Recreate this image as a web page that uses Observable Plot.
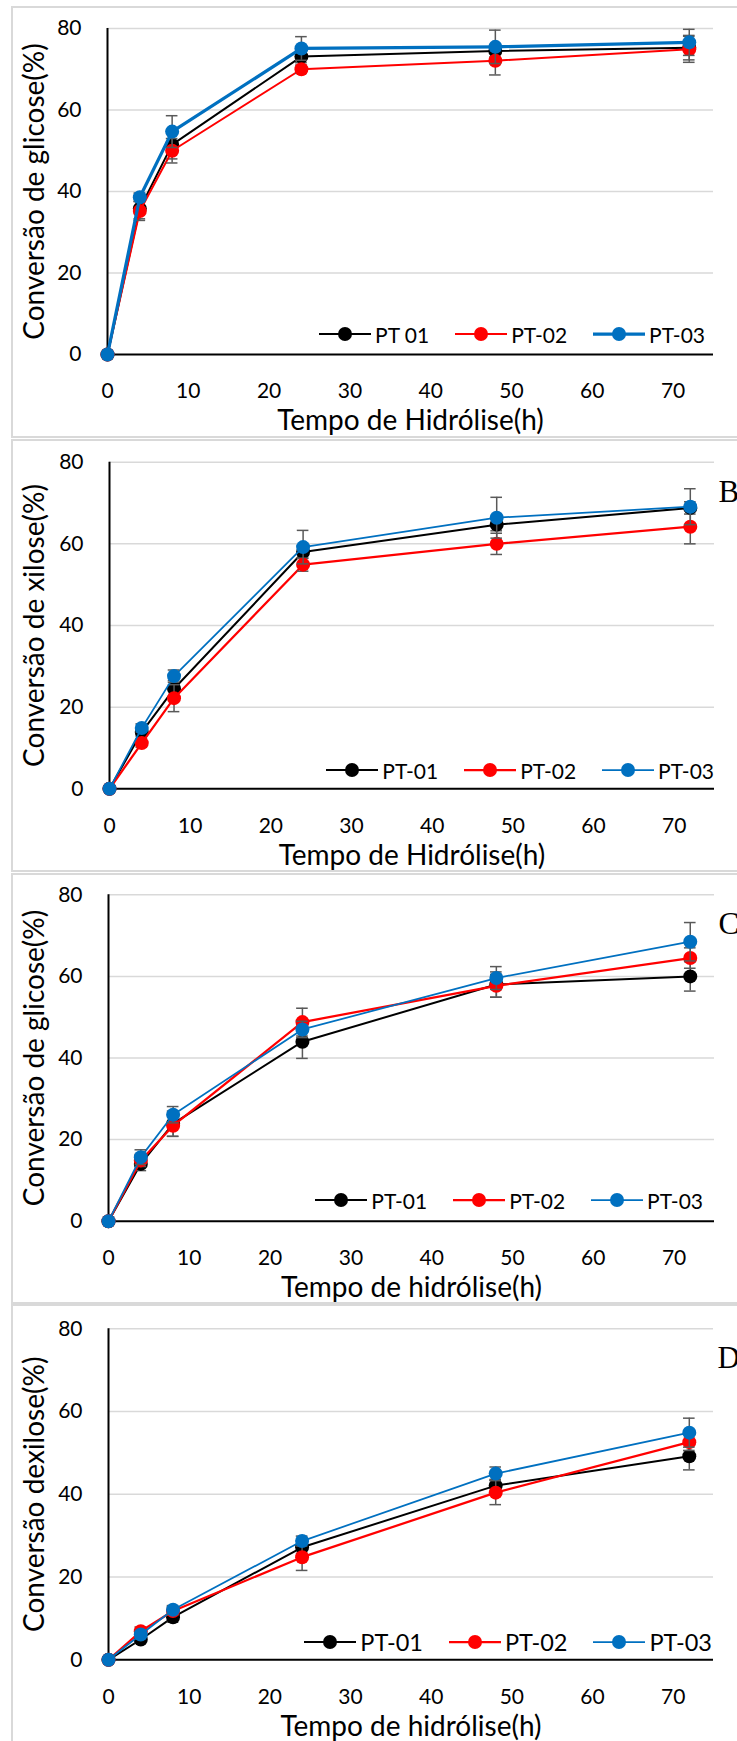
<!DOCTYPE html>
<html><head><meta charset="utf-8">
<script src="https://cdn.jsdelivr.net/npm/d3@7"></script>
<script src="https://cdn.jsdelivr.net/npm/@observablehq/plot@0.6"></script>
<style>
body{margin:0;background:#fff}
#fig{position:relative;width:737px;height:1741px;overflow:hidden;background:#fff;font-family:Lato,sans-serif}
.panel{position:absolute;left:0;width:737px}
.frame{position:absolute;left:11px;width:800px;border:2px solid #d9d9d9;box-sizing:border-box;pointer-events:none}
.legend{position:absolute;display:flex;align-items:center;height:24px;font-family:Lato,sans-serif;font-size:21px;color:#000;white-space:nowrap}
.item{display:flex;align-items:center;margin-left:26px}
.item:first-child{margin-left:0}
.item svg{margin-right:4px;display:block}
</style>
</head><body>
<div id="fig"></div>
<script>
// ---- data ----
const hours = [0, 4, 8, 24, 48, 72];
const xTicks = [0, 10, 20, 30, 40, 50, 60, 70];
const yTicks = [0, 20, 40, 60, 80];
const yGrid = [20, 40, 60, 80];
const seriesNames = ["PT-01", "PT-02", "PT-03"];
const legendNamesA = ["PT 01", "PT-02", "PT-03"];
const seriesColors = ["#000000", "#ff0000", "#0070c0"];

// Panel A - glucose conversion
const glucA_PT01 = [0, 35.8, 51.5, 73.1, 74.5, 75.3];
const glucA_PT02 = [0, 35.2, 50.0, 70.0, 72.1, 74.9];
const glucA_PT03 = [0, 38.6, 54.7, 75.1, 75.5, 76.6];
const glucA_PT01_err = [0, 2.5, 3.5, 1.5, 1.5, 3.0];
const glucA_PT02_err = [0, 2.3, 3.0, 1.0, 3.5, 3.2];
const glucA_PT03_err = [0, 1.0, 3.9, 2.9, 4.1, 3.2];

// Panel B - xylose conversion
const xylB_PT01 = [0, 13.9, 24.5, 58.0, 64.7, 68.8];
const xylB_PT02 = [0, 11.2, 22.2, 54.9, 60.0, 64.2];
const xylB_PT03 = [0, 14.9, 27.6, 59.2, 66.4, 69.1];
const xylB_PT01_err = [0, 1.0, 2.0, 1.5, 1.5, 1.5];
const xylB_PT02_err = [0, 1.0, 3.3, 1.6, 2.6, 4.2];
const xylB_PT03_err = [0, 1.0, 1.5, 4.1, 5.0, 4.4];

// Panel C - glucose conversion
const glucC_PT01 = [0, 14.05, 23.9, 44.0, 58.0, 60.0];
const glucC_PT02 = [0, 14.9, 23.4, 48.8, 57.7, 64.5];
const glucC_PT03 = [0, 15.7, 26.1, 47.0, 59.6, 68.5];
const glucC_PT01_err = [0, 1.65, 3.1, 4.1, 3.1, 3.6];
const glucC_PT02_err = [0, 1.5, 2.6, 3.4, 2.8, 2.5];
const glucC_PT03_err = [0, 1.8, 2.0, 2.0, 2.8, 4.7];

// Panel D - xylose conversion
const xylD_PT01 = [0, 4.9, 10.3, 27.2, 42.1, 49.2];
const xylD_PT02 = [0, 6.9, 11.8, 24.8, 40.4, 52.6];
const xylD_PT03 = [0, 6.1, 12.1, 28.7, 45.0, 54.9];
const xylD_PT01_err = [0, 0.8, 1.2, 1.5, 1.5, 3.3];
const xylD_PT02_err = [0, 1.0, 1.0, 3.2, 2.9, 2.0];
const xylD_PT03_err = [0, 0.8, 1.0, 1.2, 1.6, 3.5];

const panels = [
  {top: 0, height: 438, mt: 28, mb: 84, ml: 107, mr: 24,
   frameTop: 6, frameH: 432,
   yTitle: "Conversão de glicose(%)", xTitle: "Tempo de Hidrólise(h)", letter: null,
   values: [glucA_PT01, glucA_PT02, glucA_PT03], errors: [glucA_PT01_err, glucA_PT02_err, glucA_PT03_err],
   lw: [2, 2, 3.25], legendNames: legendNamesA, legendRight: 705, legendY: 334, legendFont: 21},
  {top: 438, height: 434, mt: 23.7, mb: 83.7, ml: 109, mr: 23,
   frameTop: 439, frameH: 433,
   yTitle: "Conversão de xilose(%)", xTitle: "Tempo de Hidrólise(h)", letter: "B",
   values: [xylB_PT01, xylB_PT02, xylB_PT03], errors: [xylB_PT01_err, xylB_PT02_err, xylB_PT03_err],
   lw: [2, 2.25, 1.75], legendNames: seriesNames, legendRight: 714, legendY: 770, legendFont: 21},
  {top: 871, height: 432, mt: 23.3, mb: 82.3, ml: 108, mr: 23,
   frameTop: 873, frameH: 431,
   yTitle: "Conversão de glicose(%)", xTitle: "Tempo de hidrólise(h)", letter: "C",
   values: [glucC_PT01, glucC_PT02, glucC_PT03], errors: [glucC_PT01_err, glucC_PT02_err, glucC_PT03_err],
   lw: [2, 2.25, 1.75], legendNames: seriesNames, legendRight: 703, legendY: 1200, legendFont: 21},
  {top: 1303, height: 438, mt: 25.3, mb: 81.7, ml: 108, mr: 24,
   frameTop: 1304, frameH: 500,
   yTitle: "Conversão dexilose(%)", xTitle: "Tempo de hidrólise(h)", letter: "D",
   values: [xylD_PT01, xylD_PT02, xylD_PT03], errors: [xylD_PT01_err, xylD_PT02_err, xylD_PT03_err],
   lw: [2, 2.25, 1.75], legendNames: seriesNames, legendRight: 712, legendY: 1642, legendFont: 23.5}
];

const fig = document.getElementById("fig");
const font = "Lato, sans-serif";
const titleSize = 28;

panels.forEach(cfg => {
  const marks = [
    Plot.ruleY(yGrid, {stroke: "#d9d9d9", strokeWidth: 1.5}),
    Plot.ruleY([0], {stroke: "#000", strokeWidth: 2}),
    Plot.ruleX([0], {stroke: "#000", strokeWidth: 2}),
    Plot.axisX({ticks: xTicks, tickSize: 0, tickPadding: 29, fontSize: 21, fontFamily: font, fill: "#000", label: null, tickFormat: d => String(d)}),
    Plot.axisY({ticks: yTicks, tickSize: 0, tickPadding: 26, fontSize: 21, fontFamily: font, fill: "#000", label: null, tickFormat: d => String(d)}),
    Plot.text([cfg.xTitle], {frameAnchor: "bottom", textAnchor: "middle", lineAnchor: "middle", dy: 75.7 - 0.32 * titleSize, fontSize: titleSize, fontFamily: font, fill: "#000"}),
    Plot.text([cfg.yTitle], {frameAnchor: "left", textAnchor: "middle", lineAnchor: "middle", rotate: -90, dx: -(cfg.ml - 35), fontSize: titleSize, fontFamily: font, fill: "#000"})
  ];
  if (cfg.letter) {
    marks.push(Plot.text([cfg.letter], {frameAnchor: "top-right", textAnchor: "start", lineAnchor: "middle", dx: 4, dy: 29.5,
      fontSize: 31, fontFamily: "Liberation Serif, Times New Roman, serif", fill: "#000"}));
  }
  seriesNames.forEach((name, i) => {
    const rows = hours.map((t, j) => ({series: name, t, v: cfg.values[i][j], e: cfg.errors[i][j]}));
    const eb = rows.filter(r => r.e > 0);
    marks.push(Plot.line(rows, {x: "t", y: "v", stroke: seriesColors[i], strokeWidth: cfg.lw[i]}));
    marks.push(Plot.ruleX(eb, {x: "t", y1: r => r.v - r.e, y2: r => r.v + r.e, stroke: "#595959", strokeWidth: 1.5}));
    marks.push(Plot.ruleY(eb, {y: r => r.v + r.e, x1: r => r.t - 0.72, x2: r => r.t + 0.72, stroke: "#595959", strokeWidth: 1.5}));
    marks.push(Plot.ruleY(eb, {y: r => r.v - r.e, x1: r => r.t - 0.72, x2: r => r.t + 0.72, stroke: "#595959", strokeWidth: 1.5}));
    marks.push(Plot.dot(rows, {x: "t", y: "v", r: 7, fill: seriesColors[i], stroke: "none"}));
  });

  const chart = Plot.plot({
    width: 737, height: cfg.height,
    marginTop: cfg.mt, marginBottom: cfg.mb, marginLeft: cfg.ml, marginRight: cfg.mr,
    x: {domain: [0, 75]},
    y: {domain: [0, 80]},
    style: {background: "transparent", fontFamily: font, overflow: "visible"},
    marks
  });
  const wrap = document.createElement("div");
  wrap.className = "panel";
  wrap.style.top = cfg.top + "px";
  wrap.style.height = cfg.height + "px";
  wrap.appendChild(chart);
  fig.appendChild(wrap);

  const frame = document.createElement("div");
  frame.className = "frame";
  frame.style.top = cfg.frameTop + "px";
  frame.style.height = cfg.frameH + "px";
  fig.appendChild(frame);

  // legend
  const leg = document.createElement("div");
  leg.className = "legend";
  leg.style.right = (737 - cfg.legendRight) + "px";
  leg.style.top = (cfg.legendY - 12) + "px";
  leg.style.fontSize = cfg.legendFont + "px";
  cfg.legendNames.forEach((name, i) => {
    const item = document.createElement("div");
    item.className = "item";
    const ns = "http://www.w3.org/2000/svg";
    const s = document.createElementNS(ns, "svg");
    s.setAttribute("width", 52); s.setAttribute("height", 16);
    const ln = document.createElementNS(ns, "line");
    ln.setAttribute("x1", 0); ln.setAttribute("x2", 52); ln.setAttribute("y1", 8); ln.setAttribute("y2", 8);
    ln.setAttribute("stroke", seriesColors[i]); ln.setAttribute("stroke-width", cfg.lw[i]);
    const c = document.createElementNS(ns, "circle");
    c.setAttribute("cx", 26); c.setAttribute("cy", 8); c.setAttribute("r", 7); c.setAttribute("fill", seriesColors[i]);
    s.appendChild(ln); s.appendChild(c);
    const tx = document.createElement("span");
    tx.textContent = name;
    item.appendChild(s); item.appendChild(tx);
    leg.appendChild(item);
  });
  fig.appendChild(leg);
});
</script>
</body></html>
